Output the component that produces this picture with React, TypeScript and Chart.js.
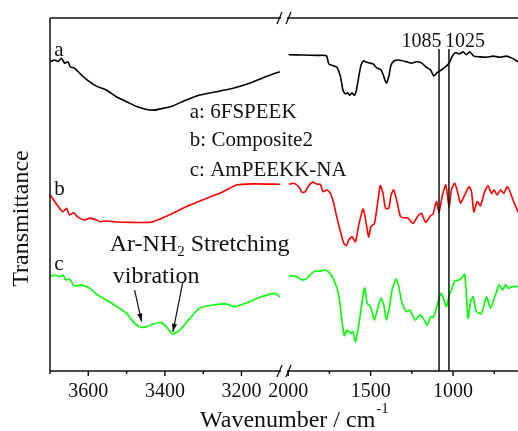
import React, { useEffect, useRef } from 'react';
import { Chart, registerables } from 'chart.js';
Chart.register(...registerables);

// ---- data (wavenumber cm-1, transmittance a.u.) ----
const wnA = [3699,3688,3679,3670,3662,3653,3647,3636,3622,3605,3579,3553,3527,3500,3474,3448,3427,3405,3379,3344,3309,3266,3222,3179,3135,3100,
  1997,1906,1825,1768,1754,1724,1704,1683,1668,1653,1639,1627,1613,1598,1586,1572,1558,1542,1532,1512,1485,1461,1437,1420,1404,1390,1376,1356,1330,1283,1252,1222,1192,1161,1137,1117,1097,1076,1050,1024,1004,984,964,939,919,899,874,838,797,757,717,676,646,615,606];
const tA = [87.6,88.1,87.7,88.6,87.2,87.6,86.2,85.8,84.3,82.6,80.7,79.6,77.7,76.3,74.9,74.1,73.9,74.4,75.1,76.8,78.2,79.1,80.1,81.5,83.4,84.8,
  89.6,89.5,89.4,89.3,87.0,86.4,86.0,83.4,79.6,78.5,78.8,78.1,78.8,78.1,79.6,83.4,86.7,87.9,87.6,87.3,87.0,85.8,85.3,83.4,81.5,83.4,86.7,87.9,88.1,87.6,87.2,87.6,87.3,86.0,85.3,83.6,84.5,85.1,86.0,87.2,89.2,90.2,89.8,90.4,89.6,90.4,89.2,89.0,88.9,89.2,88.9,89.2,88.7,87.9,87.5];

const wnB = [3699,3688,3675,3666,3657,3649,3638,3627,3609,3596,3579,3570,3553,3527,3483,3440,3414,3379,3335,3292,3248,3213,3170,3100,
  1997,1967,1936,1916,1896,1876,1850,1825,1805,1789,1765,1744,1724,1704,1683,1663,1647,1633,1613,1592,1572,1546,1532,1512,1498,1477,1461,1441,1425,1410,1390,1376,1360,1340,1319,1293,1273,1243,1212,1192,1166,1137,1121,1101,1085,1064,1044,1024,1010,990,970,955,929,903,888,874,854,834,808,788,767,751,733,712,692,672,656,636,615,606];
const tB = [49.9,48.0,46.1,45.1,46.1,44.2,44.8,43.5,42.8,43.3,42.8,42.3,42.5,42.2,42.1,42.1,43.0,44.7,47.0,48.9,50.8,52.7,53.0,52.9,
  52.9,53.2,52.2,50.6,50.8,52.5,53.5,52.9,52.9,50.8,51.3,50.3,47.5,43.3,39.5,36.2,35.5,37.1,38.0,36.6,41.4,45.9,43.3,38.0,40.9,41.8,46.5,52.5,50.3,46.1,46.1,49.9,51.3,48.0,43.7,43.4,43.3,41.8,44.0,44.7,42.1,44.0,44.4,48.0,45.0,49.9,52.7,46.5,51.3,53.2,50.3,47.5,49.9,52.2,50.8,45.1,48.0,46.8,50.8,52.5,50.3,51.3,49.9,51.3,50.3,52.2,51.0,48.4,46.1,45.0];

const wnC = [3699,3688,3675,3666,3659,3649,3636,3618,3596,3575,3553,3527,3500,3483,3466,3448,3431,3409,3396,3380,3361,3335,3309,3274,3239,3218,3187,3152,3113,3100,
  1997,1947,1916,1890,1865,1835,1805,1780,1754,1728,1704,1687,1674,1659,1643,1623,1606,1592,1572,1552,1536,1521,1501,1477,1457,1437,1420,1404,1384,1368,1343,1323,1312,1282,1262,1231,1201,1181,1157,1136,1121,1101,1085,1070,1056,1040,1024,1010,990,964,949,929,909,894,879,858,828,797,773,747,720,700,680,665,645,615,606];
const tC = [26.7,27.2,26.7,27.2,25.8,26.0,24.1,24.4,23.4,21.5,20.1,18.4,16.3,14.0,12.5,12.5,13.3,13.7,12.5,10.5,11.6,14.9,17.8,18.7,19.0,18.2,19.3,20.9,22.0,21.0,
  27.0,26.7,25.8,26.1,27.4,28.3,28.3,28.6,28.0,26.3,23.4,19.6,14.0,10.0,11.6,10.7,11.1,8.3,13.0,19.6,23.6,19.2,18.2,14.4,17.8,20.6,18.7,14.4,18.7,23.4,26.1,22.4,19.6,16.8,17.3,14.4,15.9,14.9,13.0,15.4,15.1,17.8,20.6,22.0,20.1,18.2,21.5,22.9,25.5,25.8,26.3,27.4,14.9,19.6,21.0,16.8,16.3,21.0,17.8,21.0,24.4,22.9,24.4,23.4,23.9,23.9,23.9];

const curveLetters = ['a', 'b', 'c'];
const curveLetterPos = [[3689, 89.1], [3689, 49.9], [3689, 28.6]];
const legendLines = ['a: 6FSPEEK', 'b: Composite2', 'c: AmPEEKK-NA'];
const legendPos = [[3335, 71.6], [3335, 63.6], [3335, 55.1]];
const majorTicks = [3600, 3400, 3200, 2000, 1500, 1000];
const minorTicks = [3700, 3500, 3300, 1750, 1250, 750];
const peakLines = [1085, 1025];
const peakLabels = ['1085', '1025'];
const peakTop = 91.2;
const arrows = [[[3479, 22.9], [3461, 14.0]], [[3353, 25.3], [3379, 11.1]]];

// ---- broken axis mapping ----
const LEFT = [3700, 3100];
const RIGHT = [2000, 606];
const GAP = 0.0366;
function toAxis(w: number) {
  return w > 2500 ? (LEFT[0] - w) / (LEFT[0] - LEFT[1]) : 1 + GAP + (RIGHT[0] - w) / (RIGHT[0] - RIGHT[1]);
}
function build(wn: number[], t: number[]) {
  const out: any[] = [];
  for (let i = 0; i < wn.length; i++) {
    if (i > 0 && wn[i - 1] > 2500 && wn[i] < 2500) out.push({ x: (toAxis(LEFT[1]) + toAxis(RIGHT[0])) / 2, y: null });
    out.push({ x: toAxis(wn[i]), y: t[i] });
  }
  return out;
}

const SERIF = '"Liberation Serif", "Times New Roman", serif';

export default function App() {
  const ref = useRef<HTMLCanvasElement>(null);
  useEffect(() => {
    document.body.style.margin = '0';
    const canvas = ref.current!;
    const decor = {
      id: 'decor',
      afterDatasetsDraw(chart: any) {
        const ctx = chart.ctx as CanvasRenderingContext2D;
        const xs = chart.scales.x, ys = chart.scales.y;
        const { left, right, top, bottom } = chart.chartArea;
        const X = (w: number) => xs.getPixelForValue(toAxis(w));
        const Y = (v: number) => ys.getPixelForValue(v);
        ctx.save();
        ctx.strokeStyle = '#111';
        ctx.fillStyle = '#111';
        ctx.lineWidth = 1.5;
        // peak lines
        peakLines.forEach((w) => {
          ctx.beginPath();
          ctx.moveTo(X(w), Y(peakTop));
          ctx.lineTo(X(w), bottom);
          ctx.stroke();
        });
        // frame with break
        const bMid = (X(LEFT[1]) + X(RIGHT[0])) / 2;
        const b1 = bMid - 3, b2 = bMid + 3;
        ctx.beginPath();
        ctx.moveTo(left, top); ctx.lineTo(left, bottom);
        [top, bottom].forEach((yy) => {
          ctx.moveTo(left, yy); ctx.lineTo(b1, yy);
          ctx.moveTo(b2, yy); ctx.lineTo(right, yy);
        });
        ctx.stroke();
        ctx.lineWidth = 1.3;
        [top, bottom].forEach((yy) => {
          ctx.beginPath();
          ctx.moveTo(b1 - 4, yy + 6); ctx.lineTo(b1 + 1, yy - 6);
          ctx.moveTo(b2 - 1, yy + 6); ctx.lineTo(b2 + 4, yy - 6);
          ctx.stroke();
        });
        ctx.lineWidth = 1.5;
        ctx.beginPath();
        majorTicks.forEach((w) => { ctx.moveTo(X(w), bottom); ctx.lineTo(X(w), bottom + 5); });
        minorTicks.forEach((w) => { ctx.moveTo(X(w), bottom); ctx.lineTo(X(w), bottom + 3); });
        ctx.stroke();
        // arrows
        ctx.lineWidth = 1.2;
        arrows.forEach(([p, q]) => {
          const x1 = X(p[0]), y1 = Y(p[1]), x2 = X(q[0]), y2 = Y(q[1]);
          ctx.beginPath(); ctx.moveTo(x1, y1); ctx.lineTo(x2, y2); ctx.stroke();
          const ang = Math.atan2(y2 - y1, x2 - x1);
          const L = 8, H = 2.6;
          ctx.beginPath();
          ctx.moveTo(x2, y2);
          ctx.lineTo(x2 - L * Math.cos(ang) + H * Math.sin(ang), y2 - L * Math.sin(ang) - H * Math.cos(ang));
          ctx.lineTo(x2 - L * Math.cos(ang) - H * Math.sin(ang), y2 - L * Math.sin(ang) + H * Math.cos(ang));
          ctx.closePath(); ctx.fill();
        });
        // texts
        ctx.textBaseline = 'alphabetic';
        ctx.textAlign = 'left';
        ctx.font = `21px ${SERIF}`;
        curveLetters.forEach((s, i) => ctx.fillText(s, X(curveLetterPos[i][0]), Y(curveLetterPos[i][1])));
        legendLines.forEach((s, i) => ctx.fillText(s, X(legendPos[i][0]), Y(legendPos[i][1])));
        ctx.font = `20px ${SERIF}`;
        ctx.textAlign = 'right';
        ctx.fillText(peakLabels[0], X(peakLines[0]) + 2.5, Y(91.9));
        ctx.textAlign = 'left';
        ctx.fillText(peakLabels[1], X(peakLines[1]) - 4, Y(91.9));
        // Ar-NH2 annotation
        ctx.font = `24px ${SERIF}`;
        let ax = X(3544); const ay = Y(33.9);
        ctx.fillText('Ar-NH', ax, ay); ax += ctx.measureText('Ar-NH').width;
        ctx.font = `15px ${SERIF}`;
        ctx.fillText('2', ax, ay + 5); ax += ctx.measureText('2').width;
        ctx.font = `24px ${SERIF}`;
        ctx.fillText(' Stretching', ax, ay);
        ctx.fillText('vibration', X(3536), Y(24.9));
        // axis titles
        ctx.font = `24px ${SERIF}`;
        const tx = 200, ty = 427;
        ctx.fillText('Wavenumber / cm', tx, ty);
        const tw = ctx.measureText('Wavenumber / cm').width;
        ctx.font = `15px ${SERIF}`;
        ctx.fillText('-1', tx + tw + 1, ty - 14);
        ctx.font = `24px ${SERIF}`;
        ctx.translate(28, 218.5);
        ctx.rotate(-Math.PI / 2);
        ctx.textAlign = 'center';
        ctx.fillText('Transmittance', 0, 0);
        ctx.restore();
      },
    };
    const chart = new Chart(canvas, {
      type: 'line',
      data: {
        datasets: [
          { data: build(wnA, tA), borderColor: '#000000' },
          { data: build(wnB, tB), borderColor: '#ff0000' },
          { data: build(wnC, tC), borderColor: '#00ff00' },
        ].map((d) => ({ ...d, borderWidth: 1.6, pointRadius: 0, tension: 0.2, spanGaps: false, fill: false })),
      },
      options: {
        responsive: false,
        animation: false,
        layout: { padding: { left: 50, right: 0, top: 18, bottom: 18 } },
        plugins: { legend: { display: false }, tooltip: { enabled: false } },
        scales: {
          x: {
            type: 'linear',
            min: toAxis(LEFT[0]),
            max: toAxis(RIGHT[1]),
            grid: { display: false, drawTicks: false },
            border: { display: false },
            afterBuildTicks: (scale: any) => { scale.ticks = majorTicks.map((w) => ({ value: toAxis(w) })); },
            ticks: {
              autoSkip: false,
              maxRotation: 0,
              padding: 9,
              color: '#111',
              font: { family: SERIF, size: 20 },
              callback: (_v: any, i: number) => String(majorTicks[i]),
            },
          },
          y: { display: false, min: 0, max: 100 },
        },
      },
      plugins: [decor],
    });
    return () => chart.destroy();
  }, []);
  return (
    <div style={{ width: 518, height: 431 }}>
      <canvas ref={ref} width={518} height={431} />
    </div>
  );
}
